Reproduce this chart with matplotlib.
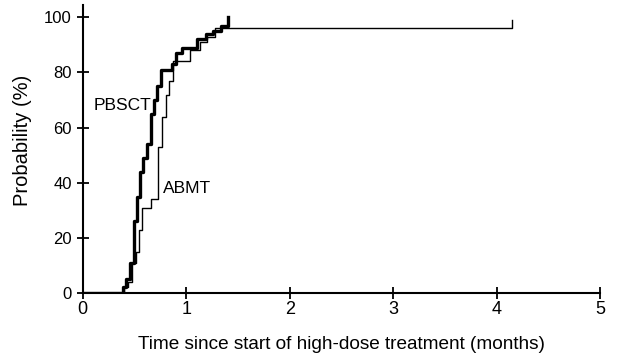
import matplotlib
matplotlib.use('Agg')
import matplotlib.pyplot as plt

plt.rcParams['font.family'] = ['Liberation Sans', 'DejaVu Sans']

# PBSCT (thick line) - cumulative probability of engraftment
pbsct_t = [0, 0.39, 0.42, 0.455, 0.49, 0.525, 0.555, 0.585, 0.62, 0.655, 0.685,
           0.72, 0.76, 0.86, 0.90, 0.96, 1.10, 1.19, 1.26, 1.34, 1.405]
pbsct_y = [0, 2, 5, 11, 26, 35, 44, 49, 54, 65, 70,
           75, 81, 83, 87, 89, 92, 94, 95, 97, 100]

# ABMT (thin line)
abmt_t = [0, 0.40, 0.44, 0.48, 0.515, 0.54, 0.57, 0.66, 0.73, 0.765, 0.80,
          0.835, 0.875, 1.035, 1.13, 1.20, 1.28, 4.15]
abmt_y = [0, 2, 4, 11, 15, 23, 31, 34, 53, 64, 72,
          77, 84, 88, 91, 93, 96, 99]

x_ticks = [0, 1, 2, 3, 4, 5]
y_ticks = [0, 20, 40, 60, 80, 100]

fig = plt.figure(figsize=(6.18, 3.53), dpi=100)
ax = fig.add_axes([0.134, 0.17, 0.837, 0.816])

ax.step(abmt_t, abmt_y, where='post', color='black', lw=1.0)
ax.step(pbsct_t, pbsct_y, where='post', color='black', lw=2.4)

ax.text(0.66, 68, 'PBSCT', ha='right', va='center', fontsize=12.5)
ax.text(0.77, 38, 'ABMT', ha='left', va='center', fontsize=12.5)

ax.set_xlim(0, 5)
ax.set_ylim(0, 104.5)
ax.set_xticks(x_ticks)
ax.set_yticks(y_ticks)
ax.tick_params(direction='inout', length=9, width=1.3)
ax.tick_params(axis='x', labelsize=13, pad=1)
ax.tick_params(axis='y', labelsize=12, pad=3.5)

for side in ['top', 'right']:
    ax.spines[side].set_visible(False)
for side in ['left', 'bottom']:
    ax.spines[side].set_linewidth(1.5)

ax.set_xlabel('Time since start of high-dose treatment (months)', fontsize=13.7, labelpad=13)
ax.set_ylabel('Probability (%)', fontsize=14.5)
ax.yaxis.set_label_coords(-0.099, 0.531)

fig.savefig('out.png', dpi=100)
